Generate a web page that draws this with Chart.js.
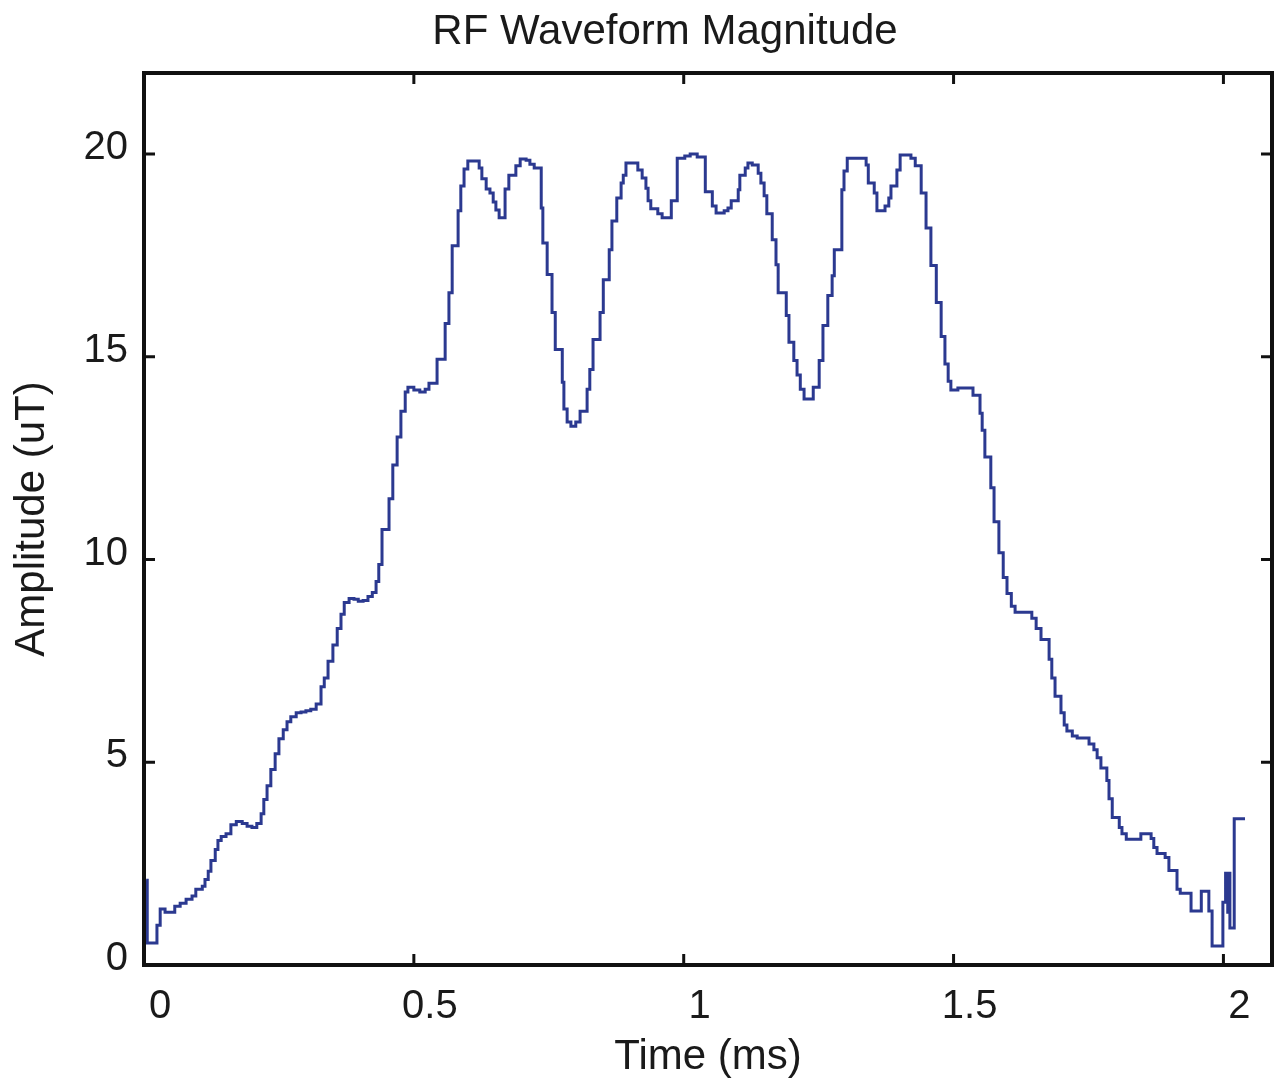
<!DOCTYPE html>
<html>
<head>
<meta charset="utf-8">
<script src="https://cdn.jsdelivr.net/npm/chart.js@4"></script>
<style>
  body { margin: 0; background: #fff; }
  #wrap { width: 1288px; height: 1089px; }
</style>
</head>
<body>
<div id="wrap"><canvas id="rfChart"></canvas></div>
<script>
// step start times (ms)
const times = [
  0.004, 0.006, 0.024, 0.030, 0.039, 0.057, 0.067, 0.078, 0.089, 0.096,
  0.108, 0.113, 0.119, 0.124, 0.132, 0.137, 0.143, 0.152, 0.161, 0.171,
  0.182, 0.191, 0.200, 0.209, 0.217, 0.222, 0.228, 0.235, 0.243, 0.250,
  0.258, 0.265, 0.272, 0.282, 0.291, 0.300, 0.309, 0.319, 0.328, 0.334,
  0.341, 0.350, 0.358, 0.365, 0.371, 0.380, 0.389, 0.397, 0.406, 0.415,
  0.423, 0.430, 0.435, 0.441, 0.454, 0.461, 0.469, 0.476, 0.484, 0.489,
  0.500, 0.511, 0.521, 0.528, 0.543, 0.558, 0.565, 0.571, 0.582, 0.587,
  0.593, 0.600, 0.621, 0.626, 0.634, 0.641, 0.647, 0.652, 0.658, 0.669,
  0.676, 0.689, 0.697, 0.708, 0.715, 0.723, 0.736, 0.739, 0.747, 0.756,
  0.762, 0.775, 0.778, 0.784, 0.791, 0.800, 0.808, 0.821, 0.826, 0.832,
  0.845, 0.851, 0.862, 0.867, 0.876, 0.884, 0.888, 0.893, 0.915, 0.923,
  0.930, 0.934, 0.939, 0.952, 0.960, 0.977, 0.988, 1.002, 1.012, 1.025,
  1.040, 1.053, 1.060, 1.075, 1.082, 1.088, 1.101, 1.104, 1.114, 1.119,
  1.127, 1.138, 1.143, 1.149, 1.154, 1.164, 1.171, 1.175, 1.190, 1.195,
  1.204, 1.210, 1.216, 1.223, 1.240, 1.251, 1.258, 1.267, 1.275, 1.279,
  1.293, 1.297, 1.303, 1.338, 1.342, 1.353, 1.358, 1.373, 1.380, 1.384,
  1.395, 1.401, 1.421, 1.429, 1.440, 1.449, 1.458, 1.468, 1.477, 1.484,
  1.490, 1.495, 1.508, 1.536, 1.549, 1.553, 1.558, 1.569, 1.575, 1.584,
  1.592, 1.599, 1.607, 1.614, 1.645, 1.653, 1.662, 1.677, 1.682, 1.688,
  1.699, 1.705, 1.710, 1.720, 1.729, 1.751, 1.760, 1.766, 1.773, 1.784,
  1.788, 1.794, 1.807, 1.812, 1.820, 1.847, 1.866, 1.871, 1.877, 1.892,
  1.899, 1.914, 1.920, 1.940, 1.959, 1.973, 1.979, 1.999, 2.004, 2.008,
  2.010, 2.012, 2.020, 2.040
];

// amplitude (uT) of each step
const amps = [
  2.09, 0.54, 0.98, 1.38, 1.30, 1.45, 1.52, 1.62, 1.70, 1.87,
  1.94, 2.11, 2.31, 2.58, 2.85, 3.07, 3.17, 3.24, 3.46, 3.54,
  3.49, 3.42, 3.39, 3.49, 3.73, 4.08, 4.42, 4.82, 5.21, 5.58,
  5.80, 6.00, 6.12, 6.22, 6.24, 6.27, 6.31, 6.44, 6.86, 7.08,
  7.49, 7.89, 8.30, 8.65, 8.94, 9.04, 9.02, 8.97, 8.99, 9.09,
  9.19, 9.46, 9.88, 10.74, 11.50, 12.33, 13.02, 13.66, 14.13, 14.25,
  14.18, 14.13, 14.20, 14.35, 14.94, 15.82, 16.58, 17.74, 18.60, 19.21,
  19.63, 19.83, 19.66, 19.39, 19.14, 19.04, 18.82, 18.62, 18.43, 19.14,
  19.48, 19.71, 19.88, 19.85, 19.75, 19.66, 18.67, 17.81, 17.03, 16.09,
  15.18, 14.37, 13.71, 13.39, 13.29, 13.39, 13.66, 14.20, 14.69, 15.43,
  16.09, 16.90, 17.64, 18.35, 18.92, 19.29, 19.48, 19.78, 19.61, 19.41,
  19.16, 18.85, 18.65, 18.53, 18.43, 18.85, 19.90, 19.95, 20.00, 19.93,
  19.07, 18.72, 18.55, 18.60, 18.67, 18.85, 19.12, 19.48, 19.66, 19.78,
  19.73, 19.53, 19.29, 18.97, 18.53, 17.89, 17.27, 16.58, 16.02, 15.36,
  14.91, 14.55, 14.20, 13.96, 14.25, 14.91, 15.77, 16.51, 17.00, 17.64,
  19.12, 19.58, 19.90, 19.73, 19.29, 19.04, 18.60, 18.72, 18.92, 19.21,
  19.61, 19.98, 19.90, 19.71, 19.04, 18.18, 17.25, 16.34, 15.50, 14.82,
  14.40, 14.18, 14.23, 14.05, 13.61, 13.19, 12.53, 11.77, 10.93, 10.17,
  9.56, 9.16, 8.85, 8.70, 8.55, 8.30, 8.03, 7.54, 7.08, 6.63,
  6.22, 5.92, 5.77, 5.65, 5.60, 5.45, 5.31, 5.11, 4.86, 4.55,
  4.10, 3.64, 3.39, 3.24, 3.10, 3.24, 3.12, 2.90, 2.75, 2.65,
  2.33, 1.87, 1.77, 1.33, 1.82, 1.33, 0.47, 1.55, 2.26, 1.30,
  2.26, 0.91, 3.61, 3.61
];

const xTicks = [0, 0.5, 1, 1.5, 2];
const yTicks = [0, 5, 10, 15, 20];
const titleText = 'RF Waveform Magnitude';

const fontFamily = '"Liberation Sans", Arial, Helvetica, sans-serif';

// matlab style box, inward ticks and the title
const matlabFrame = {
  id: 'matlabFrame',
  afterDraw(chart) {
    const { ctx, chartArea: a, scales } = chart;
    ctx.save();
    ctx.strokeStyle = '#111';
    ctx.lineWidth = 4;
    ctx.strokeRect(a.left, a.top, a.right - a.left, a.bottom - a.top);

    ctx.lineWidth = 3;
    const len = 11;
    ctx.beginPath();
    xTicks.forEach(v => {
      const px = scales.x.getPixelForValue(v);
      if (px <= a.left + 2 || px >= a.right - 2) return;
      ctx.moveTo(px, a.bottom); ctx.lineTo(px, a.bottom - len);
      ctx.moveTo(px, a.top); ctx.lineTo(px, a.top + len);
    });
    yTicks.forEach(v => {
      const py = scales.y.getPixelForValue(v);
      if (py >= a.bottom - 2 || py <= a.top + 2) return;
      ctx.moveTo(a.left, py); ctx.lineTo(a.left + len, py);
      ctx.moveTo(a.right, py); ctx.lineTo(a.right - len, py);
    });
    ctx.stroke();

    ctx.fillStyle = '#1a1a1a';
    ctx.font = '42px ' + fontFamily;
    ctx.textAlign = 'center';
    ctx.textBaseline = 'alphabetic';
    ctx.fillText(titleText, 665, 44);
    ctx.restore();
  }
};

const ctx = document.getElementById('rfChart').getContext('2d');
new Chart(ctx, {
  type: 'line',
  data: {
    datasets: [{
      label: 'RF magnitude',
      data: times.map((t, i) => ({ x: t, y: amps[i] })),
      stepped: true,
      borderColor: '#2b3990',
      borderWidth: 3,
      pointRadius: 0,
      fill: false
    }]
  },
  options: {
    responsive: true,
    maintainAspectRatio: false,
    animation: false,
    layout: { padding: { top: 73, right: 16, left: 0, bottom: 0 } },
    plugins: {
      legend: { display: false },
      tooltip: { enabled: false }
    },
    scales: {
      x: {
        type: 'linear',
        min: 0,
        max: 2.09,
        afterBuildTicks: (scale) => { scale.ticks = xTicks.map(v => ({ value: v })); },
        afterFit: (scale) => { scale.height = 124; },
        grid: { display: false, drawTicks: false },
        border: { display: false },
        ticks: {
          color: '#1a1a1a',
          font: { family: fontFamily, size: 40 },
          padding: 18,
          labelOffset: 16,
          maxRotation: 0,
          callback: (v) => String(v)
        },
        title: {
          display: true,
          text: 'Time (ms)',
          color: '#1a1a1a',
          font: { family: fontFamily, size: 42 },
          padding: { top: 0, bottom: 6 }
        }
      },
      y: {
        min: 0,
        max: 22,
        afterBuildTicks: (scale) => { scale.ticks = yTicks.map(v => ({ value: v })); },
        afterFit: (scale) => { scale.width = 144; },
        grid: { display: false, drawTicks: false },
        border: { display: false },
        ticks: {
          color: '#1a1a1a',
          font: { family: fontFamily, size: 40 },
          padding: 16,
          labelOffset: -6,
          callback: (v) => String(v)
        },
        title: {
          display: true,
          text: 'Amplitude (uT)',
          color: '#1a1a1a',
          font: { family: fontFamily, size: 42 },
          padding: { top: 7, bottom: 0 }
        }
      }
    }
  },
  plugins: [matlabFrame]
});
</script>
</body>
</html>
